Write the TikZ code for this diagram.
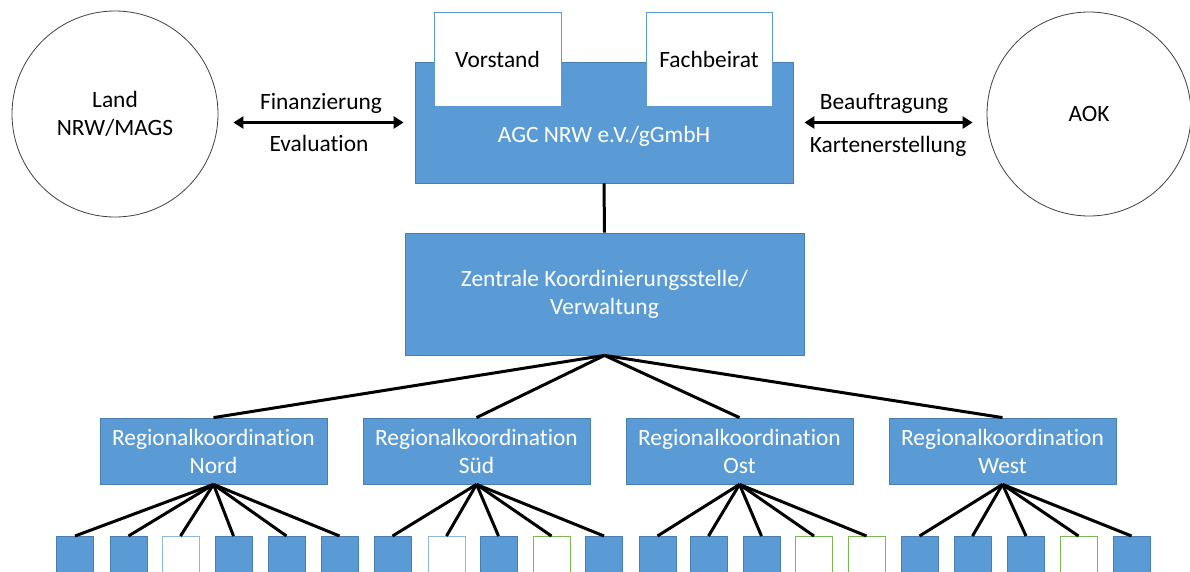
\documentclass[tikz,border=0pt]{standalone}
\usepackage{fontspec}
\setmainfont{Carlito}[Ligatures=NoCommon]
\usetikzlibrary{arrows.meta}
\definecolor{boxblue}{HTML}{5B9BD5}
\definecolor{boxedge}{HTML}{4A7EB0}
\definecolor{lightedge}{HTML}{8FB8E0}
\definecolor{greenedge}{HTML}{7DB854}
\definecolor{circedge}{HTML}{404040}
\begin{document}
\begin{tikzpicture}[x=1pt,y=-1pt, font=\fontsize{23.4}{28}\selectfont,
  bluebox/.style={draw=boxedge, fill=boxblue, line width=0.8pt, inner sep=0pt, text=white, align=center},
  whitebox/.style={draw=boxblue, fill=white, line width=0.8pt, inner sep=0pt},
  ent/.style={circle, draw=circedge, line width=0.8pt, inner sep=0pt, align=center},
  lbl/.style={inner sep=0pt, align=center},
  link/.style={line width=3pt},
  biarrow/.style={line width=3pt, {Triangle[length=10pt,width=12pt]}-{Triangle[length=10pt,width=12pt]}},
  sq/.style={minimum width=37pt, minimum height=40pt, inner sep=0pt, anchor=north, line width=0.8pt},
  sqb/.style={sq, draw=boxedge, fill=boxblue},
  sqw/.style={sq, draw=lightedge, fill=white},
  sqg/.style={sq, draw=greenedge, fill=white}]
\useasboundingbox (0,0) rectangle (1190,571);
\clip (0,0) rectangle (1190,571);

% entities
\node[ent, minimum size=206pt] (land) at (115,114) {Land\\NRW/MAGS};
\node[ent, minimum size=204pt] (aok) at (1089,114) {AOK};

% AGC box
\node[bluebox, minimum width=378pt, minimum height=121pt] (agc) at (604,122.5) {};
\node[lbl, text=white] (agct) at (604,136) {AGC NRW e.V./gGmbH};
\node[whitebox, minimum width=127pt, minimum height=94pt] (vor) at (497.5,59) {Vorstand};
\node[whitebox, minimum width=126pt, minimum height=94pt] (fach) at (709,59) {Fachbeirat};

% arrows
\draw[biarrow, shorten <=15pt, shorten >=11pt] (land.east |- agc.center) -- (agc.west);
\draw[biarrow, shorten <=11pt, shorten >=14pt] (agc.east) -- (aok.west |- agc.center);
\node[lbl] (fin) at (321,103) {Finanzierung};
\node[lbl] (eva) at (319,143) {Evaluation};
\node[lbl] (bea) at (884,103) {Beauftragung};
\node[lbl] (kar) at (888,146) {Kartenerstellung};

% central
\node[bluebox, minimum width=399pt, minimum height=122pt] (zen) at (604.5,294) {Zentrale Koordinierungsstelle/\\Verwaltung};
\draw[link] (agc.south) -- (zen.north);

% regional
\foreach \n/\x/\t in {rn/213.5/Nord, rs/476.5/Süd, ro/739.5/Ost, rw/1002.5/West}{
  \node[bluebox, minimum width=227pt, minimum height=66pt] (\n) at (\x,451) {Regionalkoordination\\\t};
  \draw[link] (zen.south) -- (\n.north);
}

% bottom squares
\foreach \r/\i/\x/\s in {rn/1/75/sqb, rn/2/128.5/sqb, rn/3/180.5/sqw, rn/4/233.5/sqb, rn/5/286.5/sqb, rn/6/339.5/sqb,
  rs/1/392.5/sqb, rs/2/446.5/sqw, rs/3/498.5/sqb, rs/4/551.5/sqg, rs/5/604/sqb,
  ro/1/657.5/sqb, ro/2/708.5/sqb, ro/3/761.5/sqb, ro/4/814/sqg, ro/5/866.5/sqg,
  rw/1/919.5/sqb, rw/2/972.5/sqb, rw/3/1026/sqb, rw/4/1078.5/sqg, rw/5/1131.5/sqb}{
  \node[\s] (\r-\i) at (\x,536) {};
  \draw[link] (\r.south) -- (\r-\i.north);
}
\end{tikzpicture}
\end{document}
